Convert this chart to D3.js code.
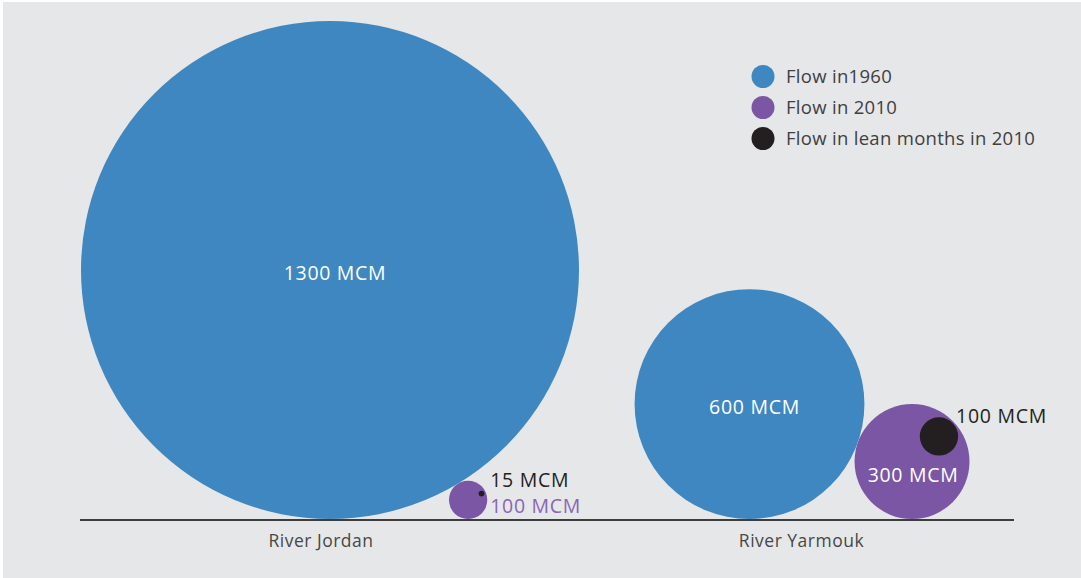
<!DOCTYPE html>
<html>
<head>
<meta charset="utf-8">
<script src="https://cdn.jsdelivr.net/npm/d3@7"></script>
<style>
	html, body { margin: 0; padding: 0; background: #fff; }
	#app { width: 1081px; height: 578px; }
	text { font-family: 'Open Sans', 'Noto Sans', sans-serif; }
</style>
</head>
<body>
<div id="app"></div>
<script>
const rivers = ['River Jordan', 'River Yarmouk'];
const flow1960 = [1300, 600];
const flow2010 = [100, 300];
const flowLean2010 = [15, 100];
const seriesNames = ['Flow in1960', 'Flow in 2010', 'Flow in lean months in 2010'];
const unit = 'MCM';

const colors = ['#3e87c1', '#7a56a4', '#231f20'];

const render = () => {
	const width = 1081;
	const height = 578;
	const baseY = 519;

	const svg = d3.select('#app').append('svg')
		.attr('width', width)
		.attr('height', height);

	svg.append('rect')
		.attr('x', 3)
		.attr('y', 2)
		.attr('width', width - 3)
		.attr('height', height - 2)
		.attr('fill', '#e6e7e9');

	// radius is linear in the value, not area
	const r = d3.scaleLinear().domain([0, 1300]).range([0, 249]);
	const x = d3.scalePoint().domain(rivers).range([330, 749.5]);
	const labelX = d3.scalePoint().domain(rivers).range([321, 801.5]);
	const leanAngle = { 'River Jordan': -25, 'River Yarmouk': -43 };

	const groups = rivers.map((river, i) => {
		const r1 = r(flow1960[i]);
		const r2 = r(flow2010[i]);
		const r3 = r(flowLean2010[i]);
		const c1 = { x: x(river), y: baseY - r1 };
		// 2010 circle sits on the baseline, touching the 1960 circle
		const dy = c1.y - (baseY - r2);
		const dx = Math.sqrt((r1 + r2) * (r1 + r2) - dy * dy);
		const c2 = { x: c1.x + dx, y: baseY - r2 };
		const a = leanAngle[river] * Math.PI / 180;
		const d = r2 - r3 - 1.5;
		const c3 = { x: c2.x + d * Math.cos(a), y: c2.y + d * Math.sin(a) };
		return { river, i, r1, r2, r3, c1, c2, c3 };
	});

	const g = svg.selectAll('g.river')
		.data(groups)
		.join('g')
		.attr('class', 'river');

	g.append('circle')
		.attr('cx', (d) => d.c1.x)
		.attr('cy', (d) => d.c1.y)
		.attr('r', (d) => d.r1)
		.attr('fill', colors[0]);

	g.append('circle')
		.attr('cx', (d) => d.c2.x)
		.attr('cy', (d) => d.c2.y)
		.attr('r', (d) => d.r2)
		.attr('fill', colors[1]);

	g.append('circle')
		.attr('cx', (d) => d.c3.x)
		.attr('cy', (d) => d.c3.y)
		.attr('r', (d) => d.r3)
		.attr('fill', colors[2]);

	const valueText = (sel) => sel
		.attr('font-size', 19.5)
		.attr('letter-spacing', 0.7);

	g.append('text')
		.call(valueText)
		.attr('x', (d) => d.c1.x + 5)
		.attr('y', (d) => d.c1.y + 10)
		.attr('text-anchor', 'middle')
		.attr('fill', '#fff')
		.text((d) => `${flow1960[d.i]} ${unit}`);

	g.each(function (d) {
		const sel = d3.select(this);
		if (d.r2 > 30) {
			sel.append('text')
				.call(valueText)
				.attr('x', d.c2.x + 1)
				.attr('y', d.c2.y + 20)
				.attr('text-anchor', 'middle')
				.attr('fill', '#fff')
				.text(`${flow2010[d.i]} ${unit}`);
			sel.append('text')
				.call(valueText)
				.attr('x', d.c3.x + d.r3 - 2)
				.attr('y', d.c3.y - 13)
				.attr('fill', '#231f20')
				.text(`${flowLean2010[d.i]} ${unit}`);
		} else {
			const tx = d.c2.x + d.r2 + 3;
			sel.append('text')
				.call(valueText)
				.attr('x', tx)
				.attr('y', d.c2.y - 13)
				.attr('fill', '#231f20')
				.text(`${flowLean2010[d.i]} ${unit}`);
			sel.append('text')
				.call(valueText)
				.attr('x', tx)
				.attr('y', d.c2.y + 13)
				.attr('fill', '#8a66b3')
				.text(`${flow2010[d.i]} ${unit}`);
		}
	});

	svg.append('line')
		.attr('x1', 80)
		.attr('x2', 1014)
		.attr('y1', baseY + 1)
		.attr('y2', baseY + 1)
		.attr('stroke', '#3d3d3d')
		.attr('stroke-width', 2);

	svg.selectAll('text.axis')
		.data(rivers)
		.join('text')
		.attr('class', 'axis')
		.attr('x', (d) => labelX(d))
		.attr('y', 547)
		.attr('text-anchor', 'middle')
		.attr('font-size', 17.5)
		.attr('letter-spacing', 0.5)
		.attr('fill', '#474747')
		.text((d) => d);

	const legend = svg.selectAll('g.legend')
		.data(seriesNames)
		.join('g')
		.attr('class', 'legend')
		.attr('transform', (d, i) => `translate(763, ${76.5 + i * 31})`);

	legend.append('circle')
		.attr('r', 11.5)
		.attr('fill', (d, i) => colors[i]);

	legend.append('text')
		.attr('x', 23)
		.attr('y', 6.5)
		.attr('font-size', 18.5)
		.attr('letter-spacing', 0.3)
		.attr('fill', '#3f3f3f')
		.text((d) => d);
};

render();
</script>
</body>
</html>
